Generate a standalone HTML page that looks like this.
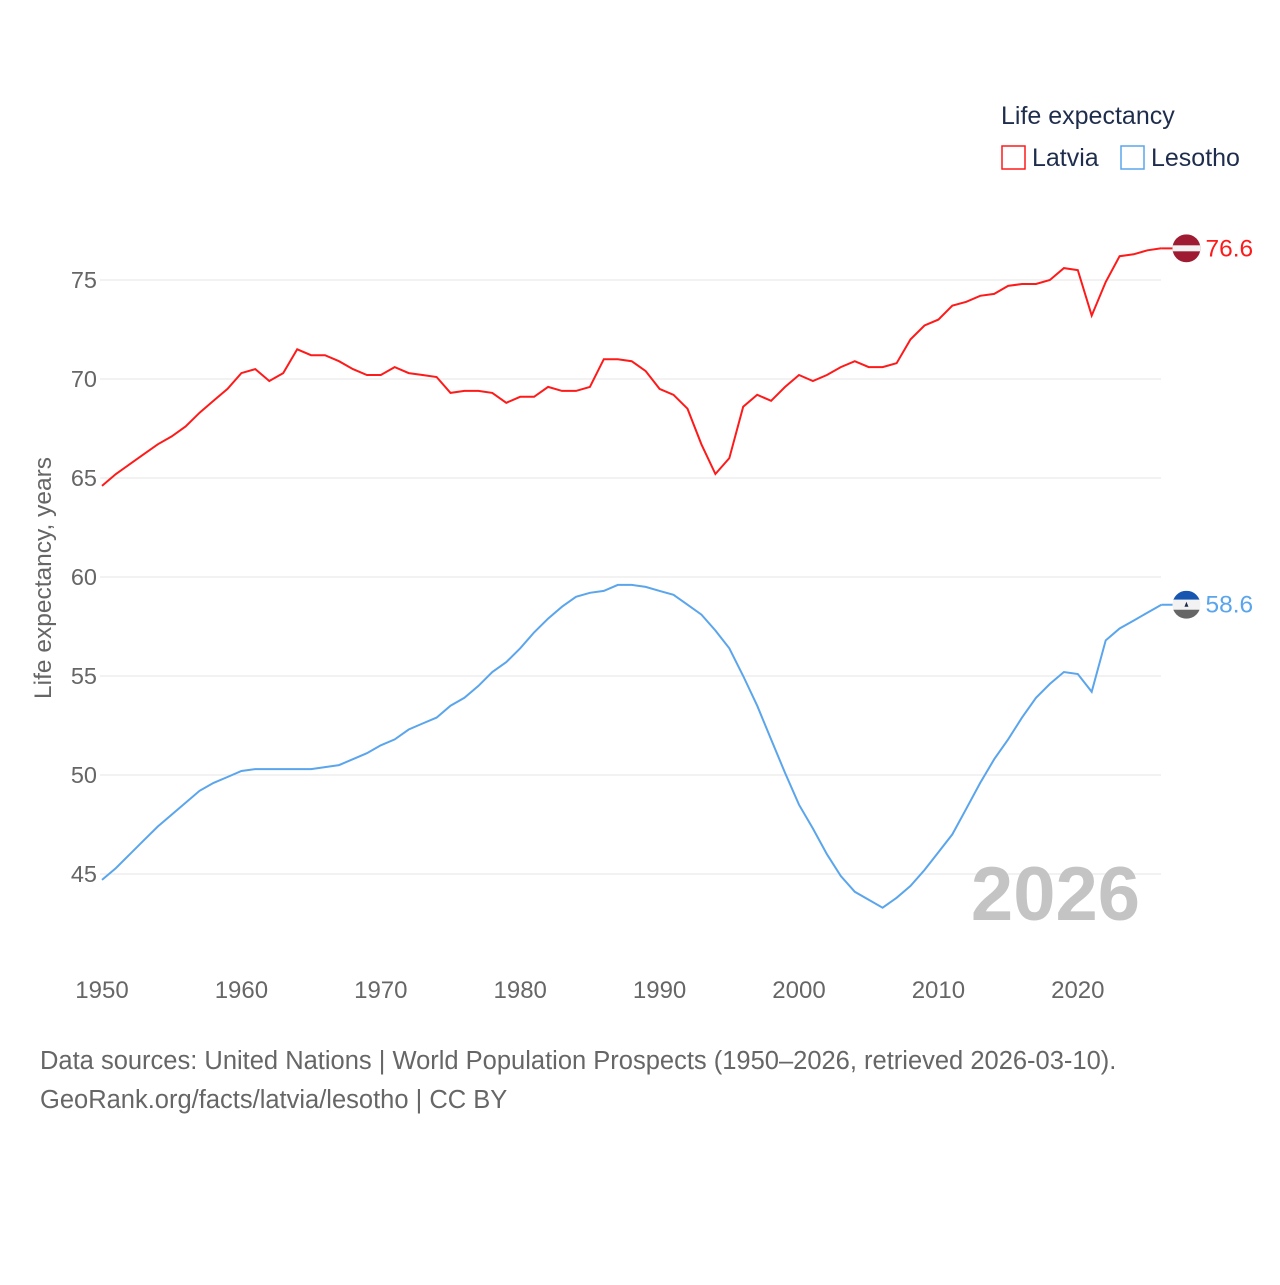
<!DOCTYPE html>
<html><head><meta charset="utf-8">
<style>
body{margin:0;background:#fff;font-family:"Liberation Sans",sans-serif;}
svg text{font-family:"Liberation Sans",sans-serif;}
</style></head>
<body>
<svg id="chart" width="1280" height="1280" viewBox="0 0 1280 1280">
  <g id="grid"></g>
  <g id="yticks"></g>
  <g id="xticks"></g>
  <text x="51" y="578" transform="rotate(-90 51 578)" text-anchor="middle" font-size="24.5" fill="#666">Life expectancy, years</text>
  <text x="1140" y="920" text-anchor="end" font-size="76" font-weight="bold" fill="#c4c4c4">2026</text>
  <g id="series"></g>
  <text x="1001" y="124" font-size="25" fill="#1f2d4d">Life expectancy</text>
  <g>
    <rect x="1002" y="146" width="23" height="23" fill="none" stroke="#ff1a1a" stroke-width="1.5"/>
    <text x="1032" y="166" font-size="25" fill="#1f2d4d">Latvia</text>
  </g>
  <g>
    <rect x="1121" y="146" width="23" height="23" fill="none" stroke="#5aa5ec" stroke-width="1.5"/>
    <text x="1151" y="166" font-size="25" fill="#1f2d4d">Lesotho</text>
  </g>
  <text x="40" y="1069" font-size="25.5" fill="#666">Data sources: United Nations | World Population Prospects (1950–2026, retrieved 2026-03-10).</text>
  <text x="40" y="1108" font-size="25.5" fill="#666">GeoRank.org/facts/latvia/lesotho | CC BY</text>
</svg>
<script>
const years = [];
for (let y = 1950; y <= 2026; y++) years.push(y);
const latvia = [64.6,65.2,65.7,66.2,66.7,67.1,67.6,68.3,68.9,69.5,70.3,70.5,69.9,70.3,71.5,71.2,71.2,70.9,70.5,70.2,70.2,70.6,70.3,70.2,70.1,69.3,69.4,69.4,69.3,68.8,69.1,69.1,69.6,69.4,69.4,69.6,71.0,71.0,70.9,70.4,69.5,69.2,68.5,66.7,65.2,66.0,68.6,69.2,68.9,69.6,70.2,69.9,70.2,70.6,70.9,70.6,70.6,70.8,72.0,72.7,73.0,73.7,73.9,74.2,74.3,74.7,74.8,74.8,75.0,75.6,75.5,73.2,74.9,76.2,76.3,76.5,76.6];
const lesotho = [44.7,45.3,46.0,46.7,47.4,48.0,48.6,49.2,49.6,49.9,50.2,50.3,50.3,50.3,50.3,50.3,50.4,50.5,50.8,51.1,51.5,51.8,52.3,52.6,52.9,53.5,53.9,54.5,55.2,55.7,56.4,57.2,57.9,58.5,59.0,59.2,59.3,59.6,59.6,59.5,59.3,59.1,58.6,58.1,57.3,56.4,55.0,53.5,51.8,50.1,48.5,47.3,46.0,44.9,44.1,43.7,43.3,43.8,44.4,45.2,46.1,47.0,48.3,49.6,50.8,51.8,52.9,53.9,54.6,55.2,55.1,54.2,56.8,57.4,57.8,58.2,58.6];
const yTicks = [45,50,55,60,65,70,75];
const xTicks = [1950,1960,1970,1980,1990,2000,2010,2020];

const X = yr => 102 + (yr - 1950) * 13.94;
const Y = v => 280 + (75 - v) * 19.8;
const NS = "http://www.w3.org/2000/svg";
const grid = document.getElementById('grid');
const yt = document.getElementById('yticks');
const xt = document.getElementById('xticks');
const ser = document.getElementById('series');

yTicks.forEach(v => {
  const l = document.createElementNS(NS, 'line');
  l.setAttribute('x1', 100); l.setAttribute('x2', 1161);
  l.setAttribute('y1', Y(v)); l.setAttribute('y2', Y(v));
  l.setAttribute('stroke', '#e6e6e6'); l.setAttribute('stroke-width', '1');
  
  
  grid.appendChild(l);
  const t = document.createElementNS(NS, 'text');
  t.setAttribute('x', 97); t.setAttribute('y', Y(v) + 8);
  t.setAttribute('text-anchor', 'end'); t.setAttribute('font-size', '23.5'); t.setAttribute('fill', '#666');
  t.textContent = v;
  
  
  yt.appendChild(t);
});
xTicks.forEach(v => {
  const t = document.createElementNS(NS, 'text');
  t.setAttribute('x', X(v)); t.setAttribute('y', 998);
  t.setAttribute('text-anchor', 'middle'); t.setAttribute('font-size', '24'); t.setAttribute('fill', '#666');
  t.textContent = v;
  
  
  xt.appendChild(t);
});

function drawSeries(vals, color, name, flag) {
  const p = document.createElementNS(NS, 'path');
  p.setAttribute('d', vals.map((v, i) => (i ? 'L' : 'M') + X(years[i]).toFixed(1) + ',' + Y(v).toFixed(1)).join(''));
  p.setAttribute('fill', 'none'); p.setAttribute('stroke', color); p.setAttribute('stroke-width', '2');
  
  
  ser.appendChild(p);
  const last = vals[vals.length - 1];
  const ly = Y(last), lx = X(years[years.length - 1]);
  const g = document.createElementNS(NS, 'g');
  
  
  const cx = lx + 25;
  g.innerHTML = `<clipPath id="c-${name}"><circle cx="${cx}" cy="${ly}" r="14"/></clipPath>` +
    `<line x1="${lx}" y1="${ly}" x2="${cx}" y2="${ly}" stroke="${color}" stroke-width="2"/>` +
    `<g clip-path="url(#c-${name})">` +
    (flag === 'lv'
      ? `<rect x="${cx-14}" y="${ly-14}" width="28" height="28" fill="#9e1b32"/><rect x="${cx-14}" y="${ly-3}" width="28" height="6" fill="#f2f2f2"/>`
      : `<rect x="${cx-14}" y="${ly-14}" width="28" height="9" fill="#1656b0"/><rect x="${cx-14}" y="${ly-5}" width="28" height="10" fill="#f2f2f2"/><rect x="${cx-14}" y="${ly+5}" width="28" height="9" fill="#666"/><path d="M${cx-2} ${ly+2}h4l-2 -5z" fill="#1f2d4d"/>`) +
    `</g>`;
  const t = document.createElementNS(NS, 'text');
  t.setAttribute('x', cx + 19); t.setAttribute('y', ly + 8);
  t.setAttribute('font-size', '24.5'); t.setAttribute('fill', color);
  t.textContent = last.toFixed(1);
  
  
  g.appendChild(t);
  ser.appendChild(g);
}
drawSeries(latvia, '#ff1a1a', 'latvia', 'lv');
drawSeries(lesotho, '#5aa5ec', 'lesotho', 'ls');
</script>
</body></html>
